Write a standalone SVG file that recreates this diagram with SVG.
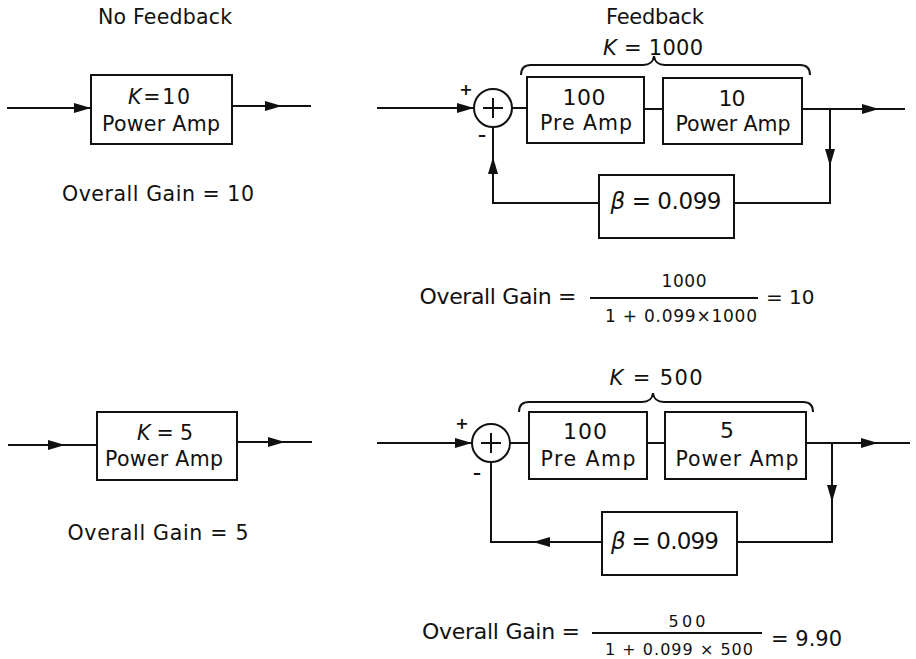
<svg xmlns="http://www.w3.org/2000/svg" width="916" height="659" viewBox="0 0 916 659">
<style>
text{font-family:"DejaVu Sans","Liberation Sans",Arial,sans-serif;fill:#111;text-anchor:middle}
.box{fill:#fff;stroke:#111;stroke-width:2}
.ln{fill:none;stroke:#111;stroke-width:2}
.arr{fill:none;stroke:#111;stroke-width:2;marker-end:url(#ah)}
.t18{font-size:20.5px}
.t19{font-size:21px}
.t20{font-size:22px}
.t21{font-size:23px}
.sm{font-size:16px}
.it{font-style:italic}
.st{text-anchor:start}
</style>
<defs>
<marker id="ah" markerUnits="userSpaceOnUse" markerWidth="18" markerHeight="11" refX="17" refY="5.5" orient="auto">
<path d="M0,0.5 L17,5.5 L0,10.5 z" fill="#111"/>
</marker>
</defs>
<rect width="916" height="659" fill="#fff"/>

<!-- titles -->
<text class="t18" x="165" y="24" textLength="134" lengthAdjust="spacing">No Feedback</text>
<text class="t19" x="655" y="24" textLength="98" lengthAdjust="spacing">Feedback</text>

<g id="connectors">
<!-- top left -->
<path class="arr" d="M7,108 L91,108"/>
<path class="arr" d="M232,106 L282,106"/>
<path class="ln" d="M282,106 L311,106"/>
<!-- bottom left -->
<path class="arr" d="M8,445 L65,445"/>
<path class="ln" d="M65,445 L97,445"/>
<path class="arr" d="M237,442 L285,442"/>
<path class="ln" d="M285,442 L312,442"/>
<!-- top right -->
<path class="arr" d="M377,108 L474,108"/>
<path class="ln" d="M512,108 L527,108"/>
<path class="ln" d="M644,109 L663,109"/>
<path class="arr" d="M802,109 L879,109"/>
<path class="ln" d="M879,109 L905,109"/>
<path class="arr" d="M830,109 L830,166"/>
<path class="ln" d="M830,166 L830,203 L734,203"/>
<path class="ln" d="M599,203 L493,203 L493,157"/>
<path class="arr" d="M493,175 L493,157"/>
<path class="ln" d="M493,157 L493,127"/>
<!-- bottom right -->
<path class="arr" d="M377,443 L472,443"/>
<path class="ln" d="M510,443 L529,443"/>
<path class="ln" d="M647,443 L665,443"/>
<path class="arr" d="M806,443 L878,443"/>
<path class="ln" d="M878,443 L910,443"/>
<path class="arr" d="M832,443 L832,502"/>
<path class="ln" d="M832,502 L832,542 L737,542"/>
<path class="arr" d="M602,542 L533,542"/>
<path class="ln" d="M533,542 L491,542 L491,462"/>
</g>

<!-- top left node -->
<g id="tl-amp">
<rect class="box" x="91" y="75" width="141" height="69"/>
<text class="t18" x="159" y="104" textLength="62" lengthAdjust="spacing"><tspan class="it">K</tspan>=10</text>
<text class="t18" x="161" y="131" textLength="118" lengthAdjust="spacing">Power Amp</text>
</g>
<text class="t18" x="158" y="201" textLength="192" lengthAdjust="spacing">Overall Gain = 10</text>

<!-- bottom left node -->
<g id="bl-amp">
<rect class="box" x="97" y="412" width="140" height="68"/>
<text class="t18" x="165" y="440" textLength="56" lengthAdjust="spacing"><tspan class="it">K</tspan> = 5</text>
<text class="t18" x="164" y="466" textLength="118" lengthAdjust="spacing">Power Amp</text>
</g>
<text class="t18" x="158" y="540" textLength="181" lengthAdjust="spacing">Overall Gain = 5</text>

<!-- top right -->
<g id="tr-brace">
<path class="ln" d="M521,75 Q521,65 531,65 L643,65 Q653,65 654,56 Q655,65 665,65 L800,65 Q810,65 810,75"/>
<text class="t19" x="653" y="55" textLength="100" lengthAdjust="spacing"><tspan class="it">K</tspan> = 1000</text>
</g>
<g id="tr-sum">
<circle class="box" cx="493" cy="108" r="19"/>
<path class="ln" d="M483,108 L503,108 M493,98 L493,118"/>
<text class="sm" x="466" y="95" font-weight="bold">+</text>
<text class="sm" x="482" y="140" font-weight="bold">–</text>
</g>
<g id="tr-pre">
<rect class="box" x="527" y="77" width="117" height="66"/>
<text class="t20" x="584" y="105" textLength="43" lengthAdjust="spacing">100</text>
<text class="t18" x="586" y="130" textLength="92" lengthAdjust="spacing">Pre Amp</text>
</g>
<g id="tr-pow">
<rect class="box" x="663" y="78" width="139" height="66"/>
<text class="t20" x="732" y="106" textLength="27" lengthAdjust="spacing">10</text>
<text class="t18" x="733" y="131" textLength="115" lengthAdjust="spacing">Power Amp</text>
</g>
<g id="tr-beta">
<rect class="box" x="599" y="175" width="135" height="63"/>
<text class="t21" x="666" y="209" textLength="111" lengthAdjust="spacing"><tspan class="it">β</tspan> = 0.099</text>
</g>
<g id="tr-formula">
<text class="t20" x="498" y="304" textLength="157" lengthAdjust="spacing">Overall Gain =</text>
<path class="ln" d="M590,298 L758,298"/>
<text class="sm" x="684" y="287" textLength="45" lengthAdjust="spacing" style="font-size:17px">1000</text>
<text class="sm" x="681" y="322" textLength="152" lengthAdjust="spacing" style="font-size:17px">1 + 0.099×1000</text>
<text class="st" x="766" y="304" style="font-size:20px">= 10</text>
</g>

<!-- bottom right -->
<g id="br-brace">
<path class="ln" d="M519,412 Q519,402 529,402 L642,402 Q652,402 653,393 Q654,402 664,402 L803,402 Q813,402 813,412"/>
<text class="t19" x="656" y="385" textLength="93" lengthAdjust="spacing"><tspan class="it">K</tspan> = 500</text>
</g>
<g id="br-sum">
<circle class="box" cx="491" cy="443" r="19"/>
<path class="ln" d="M481,443 L501,443 M491,433 L491,453"/>
<text class="sm" x="462" y="429" font-weight="bold">+</text>
<text class="sm" x="477" y="478" font-weight="bold">–</text>
</g>
<g id="br-pre">
<rect class="box" x="529" y="412" width="118" height="67"/>
<text class="t20" x="585" y="439" textLength="44" lengthAdjust="spacing">100</text>
<text class="t18" x="588" y="466" textLength="95" lengthAdjust="spacing">Pre Amp</text>
</g>
<g id="br-pow">
<rect class="box" x="665" y="412" width="141" height="67"/>
<text class="t20" x="727" y="438">5</text>
<text class="t18" x="737" y="466" textLength="123" lengthAdjust="spacing">Power Amp</text>
</g>
<g id="br-beta">
<rect class="box" x="602" y="512" width="135" height="63"/>
<text class="t21" x="665" y="549" textLength="108" lengthAdjust="spacing"><tspan class="it">β</tspan> = 0.099</text>
</g>
<g id="br-formula">
<text class="t20" x="501" y="639" textLength="158" lengthAdjust="spacing">Overall Gain =</text>
<path class="ln" d="M592,633 L762,633"/>
<text class="sm" x="687" y="627" textLength="37" lengthAdjust="spacing">500</text>
<text class="sm" x="679" y="655" textLength="148" lengthAdjust="spacing">1 + 0.099 × 500</text>
<text class="st" x="771" y="646" style="font-size:21px">= 9.90</text>
</g>
</svg>
